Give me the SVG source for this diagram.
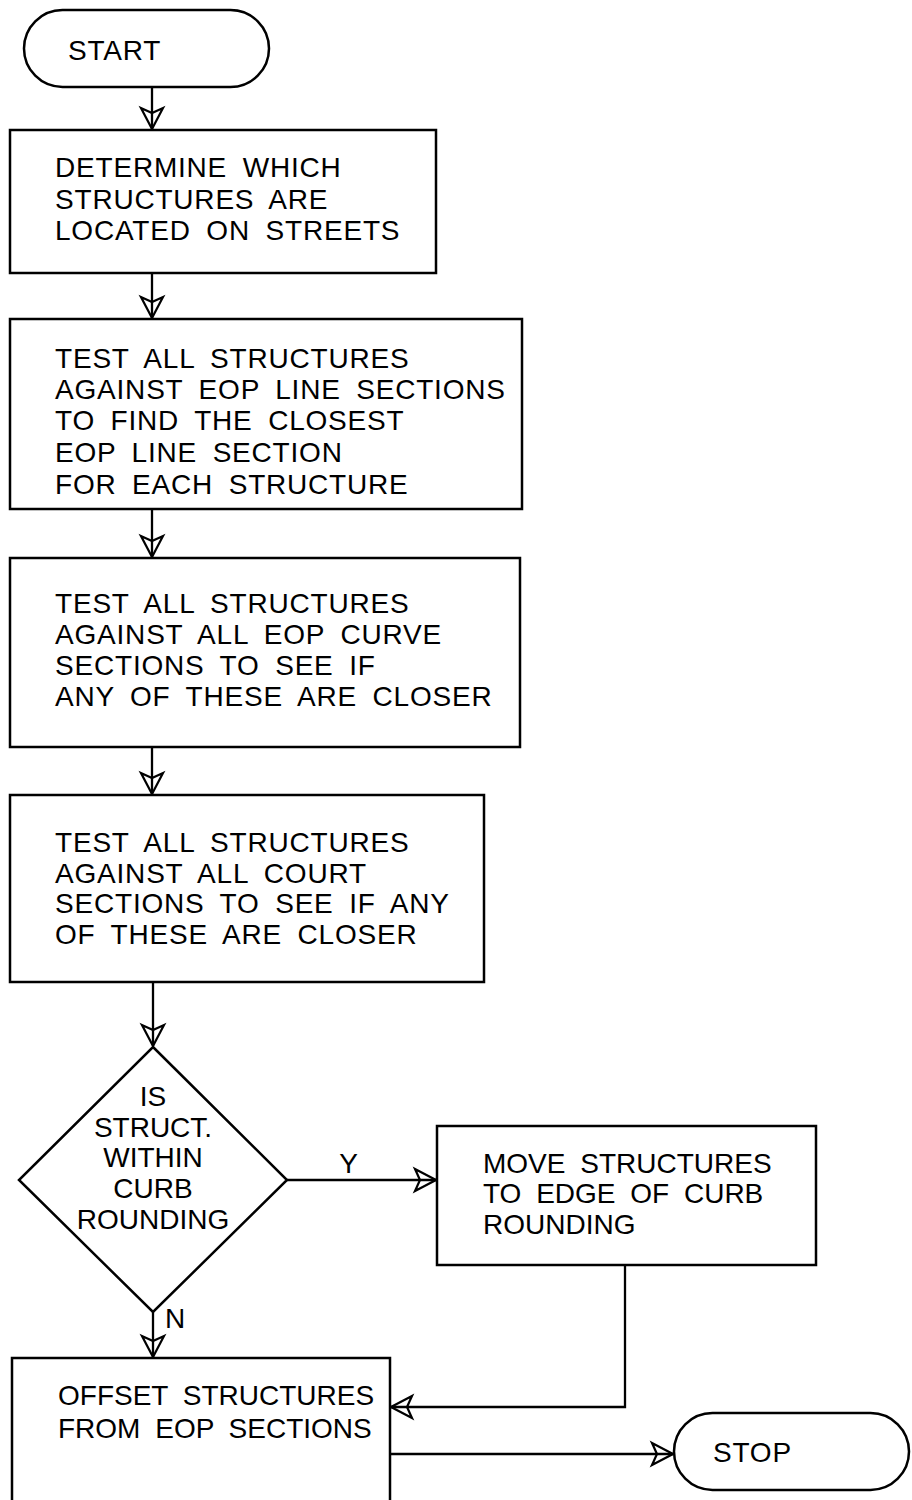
<svg xmlns="http://www.w3.org/2000/svg" width="912" height="1500" viewBox="0 0 912 1500">
  <style>
    .shape { fill: #fff; stroke: #000; stroke-width: 2.5; stroke-linejoin: miter; }
    .wire { fill: none; stroke: #000; stroke-width: 2.3; }
    .lbl { font-family: "Liberation Sans", Arial, sans-serif; font-size: 28px; letter-spacing: 0.8px; word-spacing: 7px; fill: #000; }
    .mid { text-anchor: middle; }
    .tight { letter-spacing: 0; }
  </style>
  <defs>
    <!-- open, notched arrowhead used on every flow line -->
    <marker id="arrow" viewBox="-26 -14 28 28" refX="0" refY="0" markerWidth="28" markerHeight="28" markerUnits="userSpaceOnUse" orient="auto">
      <path d="M -21,-11 L 0,0 L -21,11 L -16,0 Z" fill="none" stroke="#000" stroke-width="2.2" stroke-linejoin="miter"/>
    </marker>
  </defs>

  <rect width="912" height="1500" fill="#fff"/>

  <!-- flow lines -->
  <g id="connectors">
    <path class="wire" d="M152,87 V129" marker-end="url(#arrow)"/>
    <path class="wire" d="M152,273 V318" marker-end="url(#arrow)"/>
    <path class="wire" d="M152,509 V557" marker-end="url(#arrow)"/>
    <path class="wire" d="M152,747 V794" marker-end="url(#arrow)"/>
    <path class="wire" d="M153,982 V1046" marker-end="url(#arrow)"/>
    <path class="wire" d="M287,1180 H436" marker-end="url(#arrow)"/>
    <path class="wire" d="M153,1312 V1357" marker-end="url(#arrow)"/>
    <path class="wire" d="M625,1265 V1407 H391" marker-end="url(#arrow)"/>
    <path class="wire" d="M390,1454 H673" marker-end="url(#arrow)"/>
    <text class="lbl mid" x="349" y="1173">Y</text>
    <text class="lbl" x="165" y="1328">N</text>
  </g>

  <g id="start">
    <rect class="shape" x="24" y="10" width="245" height="77" rx="38.5"/>
    <text class="lbl" x="68" y="60">START</text>
  </g>

  <g id="find-street-structures">
    <rect class="shape" x="10" y="130" width="426" height="143"/>
    <text class="lbl" x="55" y="177">DETERMINE WHICH</text>
    <text class="lbl" x="55" y="209">STRUCTURES ARE</text>
    <text class="lbl" x="55" y="240">LOCATED ON STREETS</text>
  </g>

  <g id="test-line-sections">
    <rect class="shape" x="10" y="319" width="512" height="190"/>
    <text class="lbl" x="55" y="368">TEST ALL STRUCTURES</text>
    <text class="lbl" x="55" y="399">AGAINST EOP LINE SECTIONS</text>
    <text class="lbl" x="55" y="430">TO FIND THE CLOSEST</text>
    <text class="lbl" x="55" y="462">EOP LINE SECTION</text>
    <text class="lbl" x="55" y="494">FOR EACH STRUCTURE</text>
  </g>

  <g id="test-curve-sections">
    <rect class="shape" x="10" y="558" width="510" height="189"/>
    <text class="lbl" x="55" y="613">TEST ALL STRUCTURES</text>
    <text class="lbl" x="55" y="644">AGAINST ALL EOP CURVE</text>
    <text class="lbl" x="55" y="675">SECTIONS TO SEE IF</text>
    <text class="lbl" x="55" y="706">ANY OF THESE ARE CLOSER</text>
  </g>

  <g id="test-court-sections">
    <rect class="shape" x="10" y="795" width="474" height="187"/>
    <text class="lbl" x="55" y="852">TEST ALL STRUCTURES</text>
    <text class="lbl" x="55" y="883">AGAINST ALL COURT</text>
    <text class="lbl" x="55" y="913">SECTIONS TO SEE IF ANY</text>
    <text class="lbl" x="55" y="944">OF THESE ARE CLOSER</text>
  </g>

  <g id="curb-rounding-test">
    <polygon class="shape" points="153,1047 287,1180 153,1312 19,1180"/>
    <text class="lbl mid tight" x="153" y="1106">IS</text>
    <text class="lbl mid tight" x="153" y="1137">STRUCT.</text>
    <text class="lbl mid tight" x="153" y="1167">WITHIN</text>
    <text class="lbl mid tight" x="153" y="1198">CURB</text>
    <text class="lbl mid tight" x="153" y="1229">ROUNDING</text>
  </g>

  <g id="move-to-curb-edge">
    <rect class="shape" x="437" y="1126" width="379" height="139"/>
    <text class="lbl tight" x="483" y="1173">MOVE STRUCTURES</text>
    <text class="lbl tight" x="483" y="1203">TO EDGE OF CURB</text>
    <text class="lbl tight" x="483" y="1234">ROUNDING</text>
  </g>

  <g id="offset-structures">
    <rect class="shape" x="12" y="1358" width="378" height="150"/>
    <text class="lbl tight" x="58" y="1405">OFFSET STRUCTURES</text>
    <text class="lbl tight" x="58" y="1438">FROM EOP SECTIONS</text>
  </g>

  <g id="stop">
    <rect class="shape" x="674" y="1413" width="235" height="77" rx="38.5"/>
    <text class="lbl" x="713" y="1462">STOP</text>
  </g>
</svg>
